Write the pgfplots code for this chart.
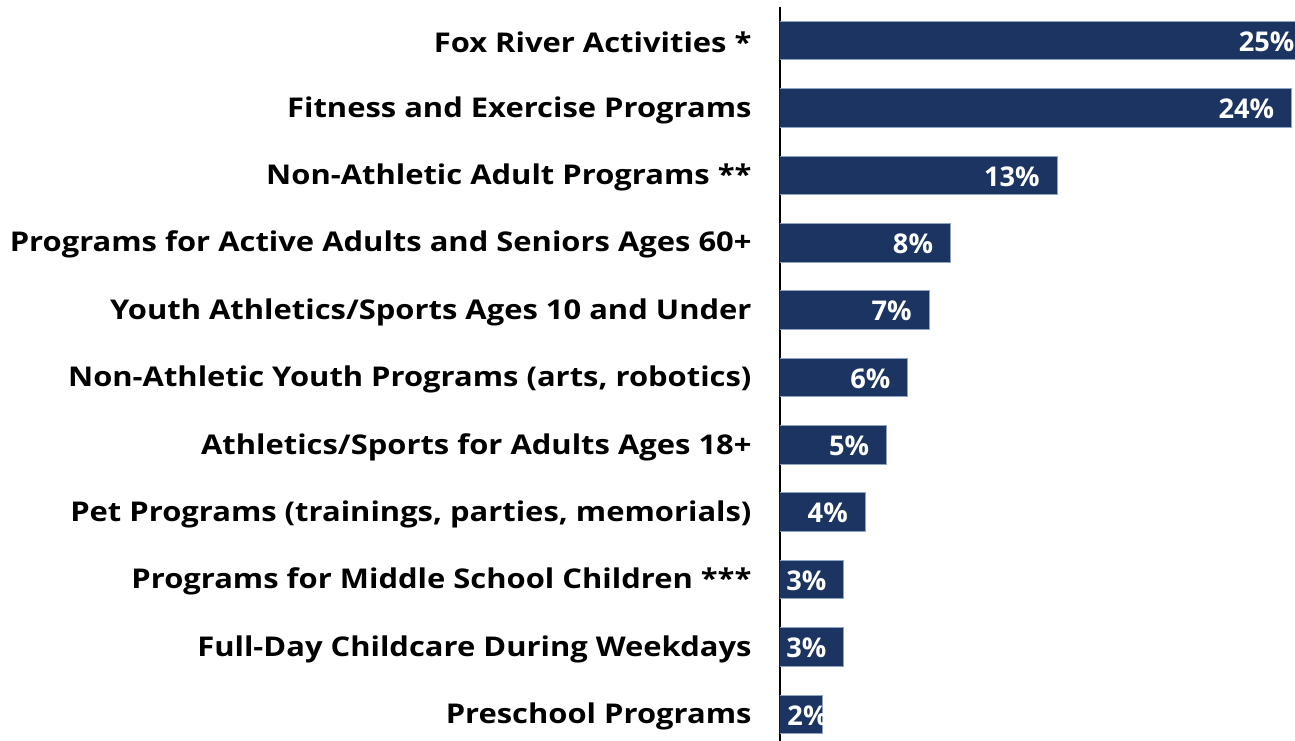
\documentclass[border=0pt]{standalone}
\usepackage{fontspec}
\setmainfont{Open Sans}
\newfontfamily\labfont{Open Sans}[FakeStretch=1.137]
\usepackage{pgfplots}
\pgfplotsset{compat=1.18}
\definecolor{navy}{HTML}{1C3461}
\definecolor{edge}{HTML}{8FA3C3}
\begin{document}
\begin{tikzpicture}
\begin{axis}[
  scale only axis,
  x=10.66pt, y=33.685pt,
  xmin=0, xmax=24.16,
  ymin=-0.393, ymax=10.5,
  axis y line=left,
  axis x line=none,
  y axis line style={-, black, line width=1pt},
  ytick={0,...,10},
  yticklabels={Preschool Programs, Full-Day Childcare During Weekdays, Programs for Middle School Children ***, Pet Programs (trainings{,} parties{,} memorials), Athletics/Sports for Adults Ages 18+, Non-Athletic Youth Programs (arts{,} robotics), Youth Athletics/Sports Ages 10 and Under, Programs for Active Adults and Seniors Ages 60+, Non-Athletic Adult Programs **, Fitness and Exercise Programs, Fox River Activities *},
  ytick style={draw=none},
  major tick length=0pt,
  yticklabel style={anchor=east, inner sep=0pt, xshift=-14pt, yshift=-1pt, font=\labfont\fontsize{13.6}{15}\selectfont\bfseries},
  /pgf/number format/assume math mode=true,
]
\addplot[xbar, bar width=19.25pt, bar shift=0pt, fill=navy, draw=edge, line width=0.5pt]
  table[x=v, y=y] {
y v
10 25
9 24
8 13
7 8
6 7
5 6
4 5
3 4
2 3
1 3
0 2
};
\addplot[draw=none, mark=none, point meta=explicit,
  nodes near coords={\pgfmathprintnumber[assume math mode=true]{\pgfplotspointmeta}\%},
  nodes near coords style={anchor=east, text=white, inner sep=0pt, yshift=-0.5pt, font=\fontsize{13.6}{15}\selectfont\bfseries}]
  table[x=lx, y=y, meta=v] {
y v lx
10 25 24.15
9 24 23.20
8 13 12.20
7 8 7.20
6 7 6.20
5 6 5.20
4 5 4.20
3 4 3.20
2 3 2.20
1 3 2.20
0 2 2.25
};
\end{axis}
\pgfresetboundingbox
\path[use as bounding box] ([xshift=-390pt]current axis.south west) rectangle ([yshift=3.5pt]current axis.north east);
\end{tikzpicture}
\end{document}
